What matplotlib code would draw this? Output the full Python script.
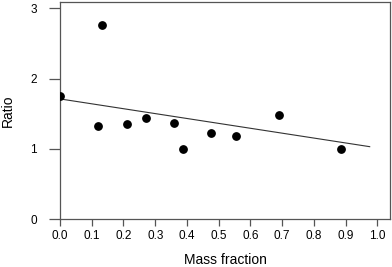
import matplotlib
matplotlib.use("Agg")
import matplotlib.pyplot as plt
import numpy as np

plt.rcParams['font.family'] = ['Liberation Sans', 'DejaVu Sans']

mass_fraction = [0.0, 0.131, 0.119, 0.21, 0.27, 0.36, 0.389, 0.475, 0.554, 0.689, 0.886]
ratio = [1.75, 2.76, 1.32, 1.35, 1.44, 1.36, 0.99, 1.22, 1.18, 1.48, 0.99]
fit_x = [0.0, 0.976]
fit_y = [1.71, 1.03]
x_ticks = [0.0, 0.1, 0.2, 0.3, 0.4, 0.5, 0.6, 0.7, 0.8, 0.9, 1.0]
y_ticks = [0, 1, 2, 3]

fig = plt.figure(figsize=(3.92, 2.67), dpi=100)
ax = fig.add_axes([60/392, 1-219/267, 330/392, 217/267])
ax.plot(fit_x, fit_y, color='#333333', lw=0.8)
ax.scatter(mass_fraction, ratio, s=28, color='black', zorder=3)
ax.set_xlim(0, 1.04)
ax.set_ylim(0, 3.09)
ax.set_xticks(x_ticks)
ax.set_xticklabels([f"{v:.1f}" for v in x_ticks])
ax.set_yticks(y_ticks)
for s in ax.spines.values():
    s.set_color('#555555')
    s.set_linewidth(0.9)
ax.tick_params(axis='y', direction='out', length=8, width=0.9, color='#555555', labelsize=8.5, pad=8.5)
ax.tick_params(axis='x', direction='out', length=5, width=0.9, color='#555555', labelsize=8.5, pad=3)
ax.set_xlabel('Mass fraction', fontsize=10, labelpad=8)
ax.set_ylabel('Ratio', fontsize=10, labelpad=11)
fig.savefig('out.png', dpi=100)
